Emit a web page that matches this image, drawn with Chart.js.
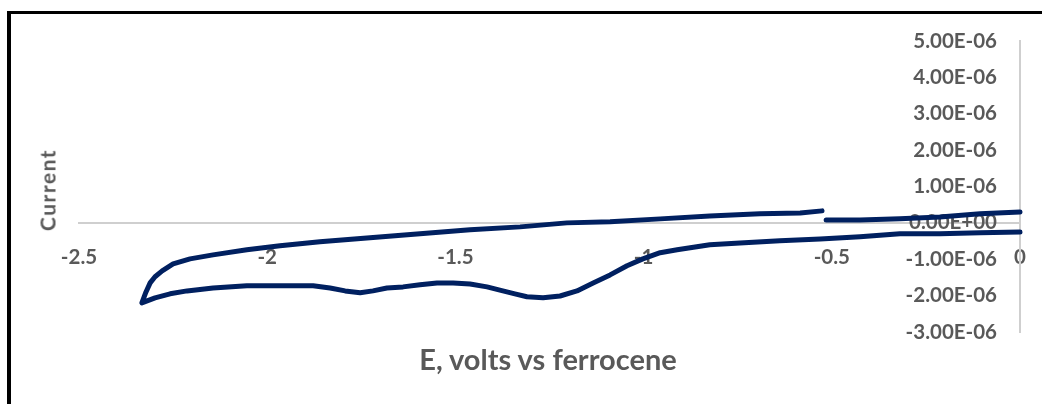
<!DOCTYPE html>
<html>
<head>
<meta charset="utf-8">
<script src="https://cdn.jsdelivr.net/npm/chart.js@4.4.1/dist/chart.umd.min.js"></script>
<style>
    html, body { margin: 0; padding: 0; background: #fff; overflow: hidden; }
    #wrap { position: relative; width: 1042px; height: 404px; overflow: hidden; }
    #frame {
        position: absolute; left: 7px; top: 11px; width: 1100px; height: 500px;
        border-left: 4px solid #000; border-top: 3px solid #000;
    }
    canvas { position: absolute; left: 0; top: 0; }
    .axis-title {
        position: absolute; color: #595959; font-weight: bold; white-space: nowrap;
        font-family: Lato, 'Liberation Sans', sans-serif;
    }
    #x-title { left: 548px; top: 358px; transform: translate(-50%, -50%); font-size: 29px; }
    #y-title { left: 47px; top: 190px; transform: translate(-50%, -50%) rotate(-90deg); font-size: 21px; letter-spacing: 1.5px; }
</style>
</head>
<body>
<div id="wrap">
    <div id="frame"></div>
    <canvas id="grafico" width="1042" height="404"></canvas>
    <div class="axis-title" id="x-title">E, volts vs ferrocene</div>
    <div class="axis-title" id="y-title">Current</div>
</div>
<script>
// Varredura catódica: de 0 V até o vértice (-2.33 V), corrente em µA
const forwardPotential = [0.0, -0.106, -0.213, -0.319, -0.425, -0.531, -0.638, -0.744, -0.824, -0.911,
    -0.956, -1.002, -1.044, -1.089, -1.134, -1.177, -1.222, -1.267, -1.310, -1.342,
    -1.374, -1.416, -1.461, -1.506, -1.549, -1.594, -1.639, -1.682, -1.719, -1.753,
    -1.793, -1.833, -1.878, -1.966, -2.054, -2.144, -2.213, -2.258, -2.298, -2.333];
const forwardCurrent = [-0.25, -0.27, -0.30, -0.30, -0.38, -0.44, -0.49, -0.55, -0.60, -0.74,
    -0.82, -0.99, -1.18, -1.43, -1.65, -1.87, -2.01, -2.06, -2.03, -1.95,
    -1.87, -1.76, -1.68, -1.65, -1.65, -1.70, -1.76, -1.79, -1.87, -1.92,
    -1.87, -1.79, -1.73, -1.73, -1.73, -1.79, -1.87, -1.95, -2.06, -2.20];

// Varredura de volta até a troca de escala (~ -0.52 V)
const reversePotential = [-2.322, -2.311, -2.298, -2.279, -2.250, -2.205, -2.144, -2.054, -1.966, -1.860,
    -1.727, -1.594, -1.461, -1.328, -1.204, -1.089, -0.956, -0.824, -0.691, -0.584, -0.526];
const reverseCurrent = [-1.90, -1.65, -1.48, -1.32, -1.13, -0.99, -0.88, -0.74, -0.63, -0.52,
    -0.41, -0.30, -0.19, -0.11, 0.0, 0.03, 0.11, 0.19, 0.25, 0.27, 0.33];

// Depois da troca de escala até 0 V
const switchPotential = [-0.515, -0.425, -0.319, -0.213, -0.106, 0.0];
const switchCurrent = [0.08, 0.08, 0.11, 0.16, 0.25, 0.30];

const xTicks = [-2.5, -2, -1.5, -1, -0.5, 0];
const yTicks = [-3e-6, -2e-6, -1e-6, 0, 1e-6, 2e-6, 3e-6, 4e-6, 5e-6];

const corLinha = '#002060';
const corTexto = '#595959';
const fonteEixo = { family: 'Lato, "Liberation Sans", sans-serif', size: 20.5, weight: 'bold' };

function pontos(potenciais, correntes) {
    return potenciais.map((v, i) => ({ x: v, y: correntes[i] * 1e-6 }));
}

function formatoCientifico(valor) {
    if (Math.abs(valor) < 1e-12) return '0.00E+00';
    const [mantissa, expoente] = valor.toExponential(2).split('e');
    const exp = parseInt(expoente, 10);
    const sinal = exp < 0 ? '-' : '+';
    return mantissa + 'E' + sinal + String(Math.abs(exp)).padStart(2, '0');
}

const estiloLinha = {
    borderColor: corLinha,
    backgroundColor: corLinha,
    borderWidth: 5,
    pointRadius: 0,
    showLine: true,
    tension: 0,
    borderCapStyle: 'round',
    borderJoinStyle: 'round',
    clip: false
};

new Chart(document.getElementById('grafico'), {
    type: 'scatter',
    data: {
        datasets: [
            Object.assign({ data: pontos(forwardPotential.concat(reversePotential), forwardCurrent.concat(reverseCurrent)) }, estiloLinha),
            Object.assign({ data: pontos(switchPotential, switchCurrent) }, estiloLinha)
        ]
    },
    options: {
        responsive: false,
        devicePixelRatio: 1,
        animation: false,
        layout: { padding: { left: 79, right: 22, top: 41, bottom: 72 } },
        plugins: { legend: { display: false }, tooltip: { enabled: false } },
        scales: {
            x: {
                type: 'linear',
                position: { y: 0 },
                min: xTicks[0],
                max: xTicks[xTicks.length - 1],
                afterFit: scale => {
                    scale.height = 0;
                    scale.paddingLeft = 0;
                    scale.paddingRight = 0;
                },
                afterBuildTicks: scale => { scale.ticks = xTicks.map(v => ({ value: v })); },
                grid: { display: false, drawTicks: false },
                border: { display: true, color: '#cfcfcf', width: 2 },
                ticks: {
                    padding: 22,
                    color: corTexto,
                    font: fonteEixo,
                    callback: v => String(Number(v.toFixed(1)))
                }
            },
            y: {
                type: 'linear',
                position: 'right',
                min: yTicks[0],
                max: yTicks[yTicks.length - 1],
                afterFit: scale => {
                    scale.width = 0;
                    scale.paddingTop = 0;
                    scale.paddingBottom = 0;
                },
                afterBuildTicks: scale => { scale.ticks = yTicks.map(v => ({ value: v })); },
                grid: { display: false, drawTicks: false },
                border: { display: true, color: '#cfcfcf', width: 2 },
                ticks: {
                    mirror: true,
                    padding: -23,
                    color: corTexto,
                    font: fonteEixo,
                    callback: v => formatoCientifico(v)
                }
            }
        }
    }
});
</script>
</body>
</html>
